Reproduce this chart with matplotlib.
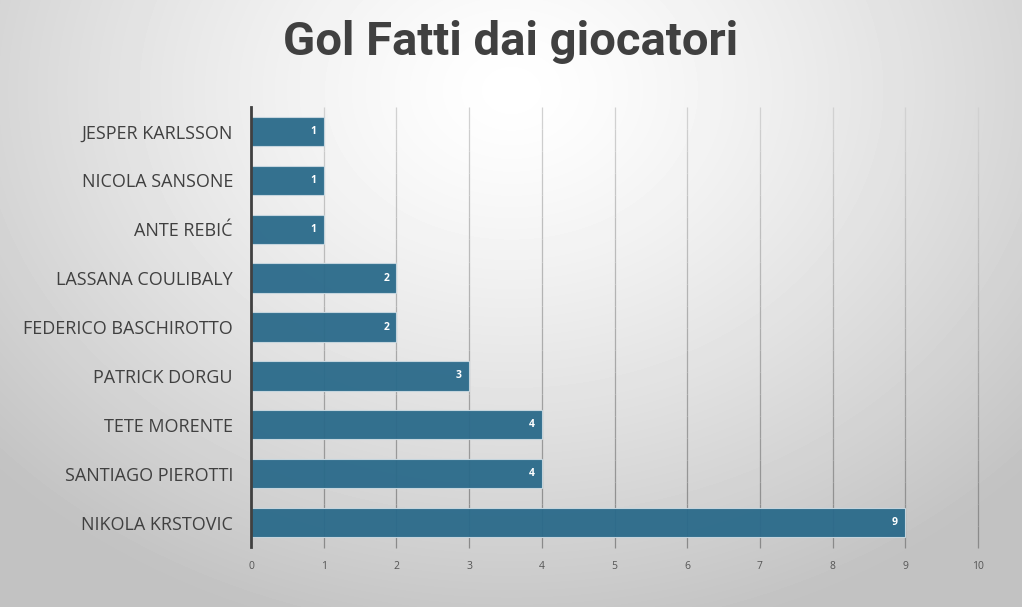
import matplotlib.pyplot as plt
import numpy as np
from matplotlib.collections import LineCollection

players = ["NIKOLA KRSTOVIC", "SANTIAGO PIEROTTI", "TETE MORENTE", "PATRICK DORGU",
           "FEDERICO BASCHIROTTO", "LASSANA COULIBALY", "ANTE REBIĆ",
           "NICOLA SANSONE", "JESPER KARLSSON"]
goals = [9, 4, 4, 3, 2, 2, 1, 1, 1]
x_ticks = list(range(0, 11))

plt.rcParams['font.family'] = ['Open Sans', 'DejaVu Sans']

fig = plt.figure(figsize=(10.22, 6.07), dpi=100)

# radial gradient background
bg = fig.add_axes([0, 0, 1, 1], zorder=-10)
yy, xx = np.mgrid[0:607, 0:1022]
r = np.sqrt(((xx - 511) / 700.0) ** 2 + ((yy - 90) / 560.0) ** 2)
shade = np.clip(1.0 - 0.24 * r ** 1.3, 0.76, 1.0)
bg.imshow(shade, cmap='gray', vmin=0, vmax=1, aspect='auto', interpolation='bilinear')
bg.axis('off')

ax = fig.add_axes([251 / 1022, 1 - 547 / 607, (978 - 251) / 1022, 440 / 607])
ax.patch.set_alpha(0)

y = np.arange(len(players))
bars = ax.barh(y, goals, height=0.6, color='#2a6a8a', alpha=0.95,
               edgecolor='#c9d8e0', linewidth=0.8, zorder=3)

for b, g in zip(bars, goals):
    ax.text(b.get_width() - 0.1, b.get_y() + b.get_height() / 2, str(g),
            ha='right', va='center', color='white', fontsize=7.5,
            fontweight='bold', zorder=4)

ax.set_xlim(0, 10)
ax.set_ylim(-0.5, len(players) - 0.5)
ax.set_yticks(y)
ax.set_yticklabels(players, fontsize=13, color='#404040')
ax.set_xticks(x_ticks)
ax.set_xticklabels([str(t) for t in x_ticks], fontsize=7.5, color='#555555')
ax.tick_params(axis='y', length=0, pad=13)
ax.tick_params(axis='x', length=0, pad=10)

# vertical gridlines, lighter at the top and darker at the bottom
segs, cols = [], []
n = 20
for t in x_ticks[1:]:
    edges = np.linspace(len(players) - 0.5, -0.5 - 0.03, n + 1)
    for i in range(n):
        segs.append([(t, edges[i]), (t, edges[i + 1])])
        c = 0.82 - 0.28 * (i / (n - 1))
        cols.append((c, c, c, 1))
lc = LineCollection(segs, colors=cols, linewidths=0.9, zorder=1, clip_on=False)
ax.add_collection(lc)

for s in ['top', 'right', 'bottom']:
    ax.spines[s].set_visible(False)
ax.spines['left'].set_color('#404040')
ax.spines['left'].set_linewidth(2)
ax.spines['left'].set_zorder(5)

fig.text(0.5, 1 - 42 / 607, "Gol Fatti dai giocatori", ha='center', va='center',
         fontsize=34, fontweight='bold', color='#404040', family=['Roboto', 'DejaVu Sans'])

fig.savefig('out.png', dpi=100)
